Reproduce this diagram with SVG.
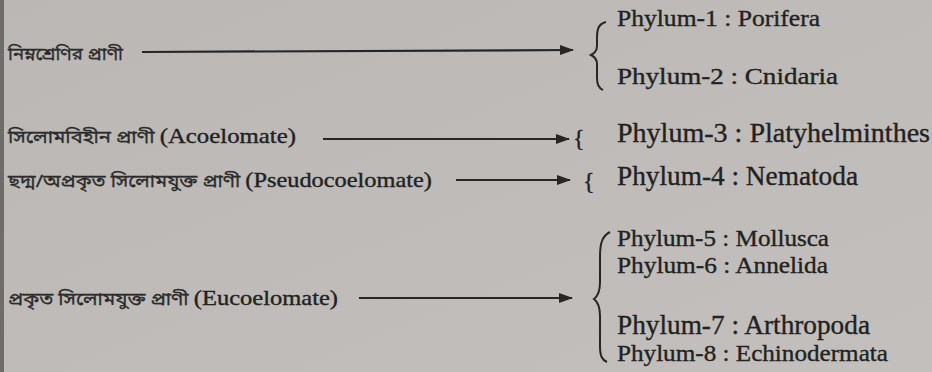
<svg xmlns="http://www.w3.org/2000/svg" width="932" height="372" viewBox="0 0 932 372">
<defs>
<marker id="ah" markerWidth="14" markerHeight="10" refX="13" refY="5" orient="auto" markerUnits="userSpaceOnUse">
<path d="M0,0 L14,5 L0,10 Z" fill="#262626"/>
</marker>
<linearGradient id="bg" x1="0" y1="0" x2="1" y2="1">
<stop offset="0" stop-color="#bab7b4"/>
<stop offset="1" stop-color="#c2bfbc"/>
</linearGradient>
</defs>
<style>
.bn{font-family:"Noto Sans Bengali","Lohit Bengali","Noto Sans",sans-serif;font-size:17px;fill:#2b2b2b;stroke:#2b2b2b;stroke-width:0.3}
.en{font-family:"Liberation Serif","Times New Roman",serif;fill:#222;stroke:#222;stroke-width:0.35}
.l{font-size:21px}
.p{font-size:24px}
.pb{font-size:27px}
.conn line{stroke:#262626;stroke-width:2.2}
.br{fill:none;stroke:#262626;stroke-width:2}
</style>
<rect width="932" height="372" fill="url(#bg)"/>
<rect x="0" y="0" width="4" height="372" fill="#6e6b68"/>

<g id="n-lower">
<text class="bn" x="8" y="60" textLength="115" lengthAdjust="spacingAndGlyphs">নিম্নশ্রেণির প্রাণী</text>
</g>
<g id="n-acoel">
<text x="8" y="143" textLength="288" lengthAdjust="spacingAndGlyphs"><tspan class="bn">সিলোমবিহীন প্রাণী </tspan><tspan class="en l">(Acoelomate)</tspan></text>
</g>
<g id="n-pseudo">
<text x="8" y="187" textLength="424" lengthAdjust="spacingAndGlyphs"><tspan class="bn">ছদ্ম/অপ্রকৃত সিলোমযুক্ত প্রাণী </tspan><tspan class="en l">(Pseudocoelomate)</tspan></text>
</g>
<g id="n-eucoel">
<text x="8" y="305" textLength="330" lengthAdjust="spacingAndGlyphs"><tspan class="bn">প্রকৃত সিলোমযুক্ত প্রাণী </tspan><tspan class="en l">(Eucoelomate)</tspan></text>
</g>

<g id="g-1">
<path class="br" d="M606,22 C598,24 597,30 597,38 L597,46 C597,51 595,53 591,55 C595,57 597,59 597,64 L597,78 C597,84 598,88 603,90"/>
<text class="en p" x="617" y="26" textLength="203" lengthAdjust="spacingAndGlyphs">Phylum-1 : Porifera</text>
<text class="en p" x="617" y="84" textLength="221" lengthAdjust="spacingAndGlyphs">Phylum-2 : Cnidaria</text>
</g>
<g id="g-3">
<text class="en p" x="573" y="146">{</text>
<text class="en pb" x="617" y="142" textLength="313" lengthAdjust="spacingAndGlyphs">Phylum-3 : Platyhelminthes</text>
</g>
<g id="g-4">
<text class="en p" x="583" y="189">{</text>
<text class="en pb" x="617" y="185" textLength="241" lengthAdjust="spacingAndGlyphs">Phylum-4 : Nematoda</text>
</g>
<g id="g-5">
<path class="br" d="M610,232 C602,236 600,244 600,256 L600,282 C600,292 598,296 594,299 C598,302 600,306 600,316 L600,346 C600,356 602,360 607,362"/>
<text class="en p" x="617" y="246" textLength="212" lengthAdjust="spacingAndGlyphs">Phylum-5 : Mollusca</text>
<text class="en p" x="617" y="273" textLength="211" lengthAdjust="spacingAndGlyphs">Phylum-6 : Annelida</text>
<text class="en pb" x="617" y="334" textLength="253" lengthAdjust="spacingAndGlyphs">Phylum-7 : Arthropoda</text>
<text class="en p" x="617" y="361" textLength="271" lengthAdjust="spacingAndGlyphs">Phylum-8 : Echinodermata</text>
</g>

<g id="connectors" class="conn">
<line x1="142" y1="52" x2="573" y2="50" marker-end="url(#ah)"/>
<line x1="323" y1="139" x2="569" y2="139" marker-end="url(#ah)"/>
<line x1="456" y1="180" x2="570" y2="180" marker-end="url(#ah)"/>
<line x1="359" y1="298" x2="572" y2="298" marker-end="url(#ah)"/>
</g>
</svg>
